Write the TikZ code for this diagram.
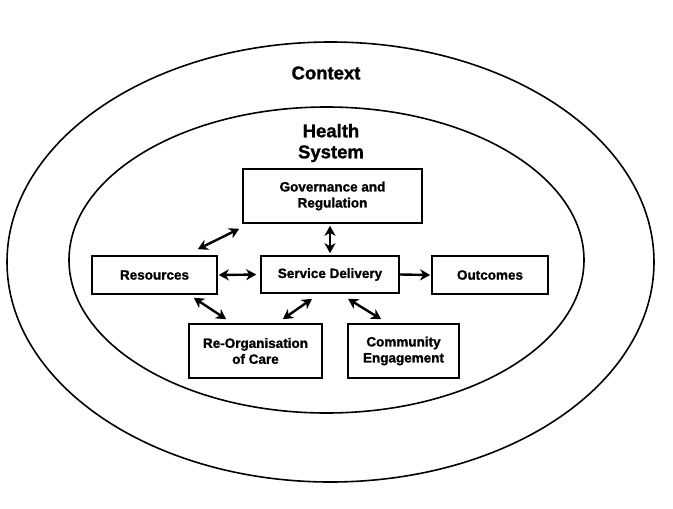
\documentclass[tikz,border=0pt]{standalone}
\usepackage{fontspec}
\setmainfont{Liberation Sans}[BoldFeatures={FakeBold=1.3}]
\usetikzlibrary{arrows.meta}

\tikzset{
    box/.style={draw=black, line width=1.6pt, fill=white, align=center,
        font=\fontsize{13.5}{16}\selectfont\bfseries, inner sep=2pt},
    link/.style={line width=2.4pt, {Stealth[length=10pt,width=11pt,inset=3pt]}-{Stealth[length=10pt,width=11pt,inset=3pt]}},
    linkone/.style={line width=2.4pt, -{Stealth[length=10pt,width=11pt,inset=3pt]}},
    ring/.style={draw=black, line width=1.6pt},
    title/.style={align=center, font=\fontsize{18.5}{21}\selectfont\bfseries}
}

\begin{document}
\begin{tikzpicture}[x=1pt, y=-1pt]
    \useasboundingbox (0,0) rectangle (673,509);

    % Context ring
    \draw[ring] (330.5,262) ellipse [x radius=323.5, y radius=220];
    \node[title] (ctx) at (326,73) {Context};

    % Health system ring
    \draw[ring] (326.5,260) ellipse [x radius=257.5, y radius=153];
    \node[title] (hs) at (331,143) {Health\\ System};

    % Boxes
    \node[box, minimum width=179pt, minimum height=54pt] (gov) at (332.5,196) {Governance and\\Regulation};
    \node[box, minimum width=138pt, minimum height=37pt] (sd) at (330,274.5) {Service Delivery};
    \node[box, minimum width=125pt, minimum height=38pt] (res) at (154.5,275) {Resources};
    \node[box, minimum width=116pt, minimum height=38pt] (out) at (490,275) {Outcomes};
    \node[box, minimum width=133pt, minimum height=54pt] (reorg) at (255.5,351) {Re-Organisation\\of Care};
    \node[box, minimum width=111pt, minimum height=54pt] (comm) at (403.5,351) {Community\\Engagement};

    % Links
    \draw[link] ([shift={(-3,5)}]gov.south west) -- ([shift={(-20,-6)}]res.north east);
    \draw[link, shorten <=2pt, shorten >=2pt] (sd.north |- gov.south) -- (sd.north);
    \draw[link, shorten <=1pt, shorten >=4pt] (res.east) -- (sd.west);
    \draw[linkone, shorten >=1pt] (sd.east) -- (out.west);
    \draw[link] ([shift={(-24,3)}]res.south east) -- ([shift={(38,-4)}]reorg.north west);
    \draw[link] ([shift={(-18,5)}]sd.south) -- ([shift={(-40,-4)}]reorg.north east);
    \draw[link] ([shift={(18,5)}]sd.south) -- ([shift={(34,-4)}]comm.north west);
\end{tikzpicture}
\end{document}
